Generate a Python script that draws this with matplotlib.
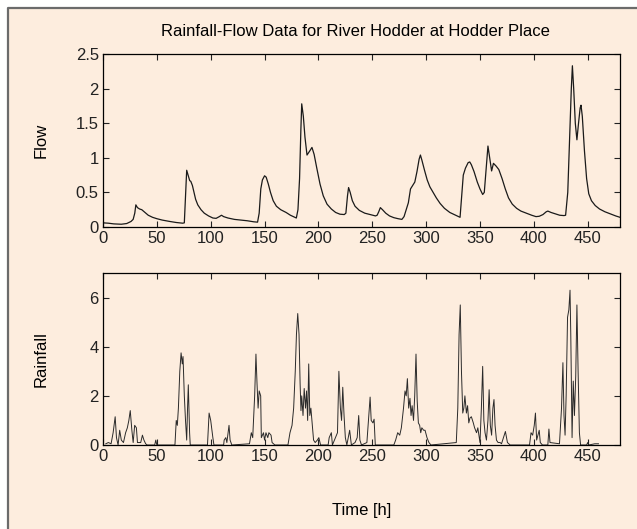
import numpy as np
import matplotlib
matplotlib.use('Agg')
from matplotlib import pyplot as plt
from matplotlib.patches import Rectangle
from matplotlib.lines import Line2D

# flow, hours and flow value
flow_t = [0, 5, 10, 17, 22, 26, 28, 29.5, 30.5, 32, 34, 36, 39, 42, 46, 50, 55, 62, 68, 74, 75.5,
          76.5, 77.7, 79, 80.5, 81.5, 83, 84.5, 86, 88, 91, 94, 98, 102, 105, 108, 110, 112, 116,
          122, 128, 134, 140, 143.5, 145, 146.5, 148, 150, 151.5, 153.5, 155.5, 158, 161, 165, 170,
          174, 178, 179.5, 181, 182.5, 183.7, 184.5, 186, 187.5, 189.4, 192, 194, 196, 198.5, 201.5,
          204.5, 208, 212, 216, 220, 224, 225.5, 227, 228, 229.5, 231.5, 234, 238, 243, 248, 253,
          254.5, 256, 257.5, 259.5, 262.5, 266, 270, 274, 277.5, 279.5, 281.5, 283.5, 285.5, 287.5,
          289.5, 291.5, 293.5, 294.7, 296, 298.5, 301, 303.5, 306.5, 309.5, 313, 317, 322, 326, 330,
          331.5, 333, 334.5, 336.5, 339, 340.5, 342, 344.5, 347.5, 350, 352.5, 354, 356, 357.4, 359,
          360.8, 362.5, 365, 367.5, 370.5, 373.5, 376.5, 380, 384, 388, 393, 398, 402, 405, 408.5,
          411.5, 413, 416, 420, 424, 428, 429.5, 431.5, 433, 434.8, 435.8, 437, 438.5, 440, 441.5,
          443, 443.8, 445, 447, 449, 451, 453.5, 457, 461, 466, 471, 476, 480]
flow_v = [0.06, 0.055, 0.045, 0.04, 0.05, 0.08, 0.11, 0.2, 0.32, 0.28, 0.26, 0.25, 0.21, 0.17, 0.14,
          0.12, 0.1, 0.08, 0.065, 0.055, 0.06, 0.4, 0.82, 0.75, 0.67, 0.66, 0.6, 0.5, 0.4, 0.32, 0.25,
          0.2, 0.16, 0.13, 0.125, 0.15, 0.17, 0.15, 0.13, 0.11, 0.1, 0.09, 0.075, 0.07, 0.2, 0.55,
          0.68, 0.74, 0.72, 0.62, 0.5, 0.38, 0.3, 0.25, 0.21, 0.17, 0.14, 0.13, 0.25, 0.7, 1.4, 1.78,
          1.6, 1.3, 1.04, 1.1, 1.15, 1.05, 0.85, 0.62, 0.45, 0.33, 0.26, 0.21, 0.185, 0.18, 0.2, 0.45,
          0.57, 0.5, 0.38, 0.3, 0.24, 0.2, 0.18, 0.16, 0.17, 0.22, 0.28, 0.25, 0.2, 0.16, 0.135, 0.12,
          0.11, 0.15, 0.25, 0.35, 0.55, 0.6, 0.65, 0.8, 0.98, 1.04, 0.97, 0.82, 0.68, 0.58, 0.5, 0.42,
          0.34, 0.27, 0.21, 0.18, 0.15, 0.14, 0.45, 0.75, 0.85, 0.93, 0.94, 0.9, 0.8, 0.65, 0.55,
          0.47, 0.5, 0.9, 1.17, 1.0, 0.81, 0.92, 0.88, 0.83, 0.7, 0.55, 0.42, 0.33, 0.27, 0.23, 0.2,
          0.17, 0.15, 0.155, 0.18, 0.22, 0.23, 0.21, 0.19, 0.17, 0.165, 0.17, 0.5, 1.2, 2.0, 2.33,
          2.0, 1.5, 1.26, 1.5, 1.72, 1.76, 1.6, 1.1, 0.7, 0.48, 0.38, 0.31, 0.26, 0.22, 0.19, 0.16,
          0.14]

# rainfall
rain_t = [2.6, 5, 7.5, 9.4, 11.3, 12.5, 14, 15.5, 17, 19, 21, 22.6, 24, 25.3, 26.8, 28, 29.4, 31,
          32, 35, 36.6, 38, 39.6, 41, 48, 49, 50, 66.8, 68, 69, 70, 71.3, 72.5, 73.6, 74.3, 75.5,
          76.6, 77.7, 78.5, 79.2, 80.4, 81, 97, 98.5, 100, 102, 103, 112, 112.5, 114, 115, 117, 118,
          119.6, 136, 137.7, 139, 140.8, 142, 143, 144, 145, 146.4, 147, 149, 150, 151.3, 153, 154,
          156, 157, 159.6, 171.7, 173.6, 175.5, 177, 178.5, 179.6, 180.8, 182, 183, 183.8, 184.5,
          185.7, 186.8, 188, 189, 190, 191, 192, 193, 194.3, 195.5, 197, 199, 200.4, 202, 209, 210,
          212, 213, 217.7, 219, 220.4, 221.5, 222.6, 223.8, 225, 226.4, 229, 230.6, 234, 236, 237.4,
          238.5, 240, 245, 246.8, 248, 249, 250.6, 251.7, 252.8, 270, 271.7, 273.6, 275.5, 277,
          279, 280.4, 281.5, 282.6, 283.8, 285, 286, 287, 288.3, 289.4, 290.6, 291.7, 292.8, 294,
          295, 296, 297.7, 299, 300.8, 302.6, 304.5, 328, 329.4, 330.6, 331.7, 332.8, 334, 335, 336,
          337.4, 338.5, 339.6, 340.7, 342, 343.8, 345, 346.8, 348, 350, 351.3, 352.5, 353.6, 354.7,
          356, 357.4, 358.5, 359.6, 360.8, 362, 363, 364, 365.3, 366.8, 368.7, 370, 373.6, 375.5,
          378, 396, 397.4, 398.9, 400.4, 401.5, 402.6, 405, 406, 408, 413, 414, 415, 423.8, 425.7,
          427, 428, 429, 430, 431.3, 432.5, 433.6, 434.3, 435.5, 436.6, 437.7, 438.9, 440, 441.1,
          442.3, 443.4, 449, 450, 451, 456.6, 460]
rain_v = [0.05, 0.1, 0.05, 0.5, 1.15, 0.3, 0, 0.6, 0.2, 0.1, 0.5, 0.7, 1.0, 1.4, 0.6, 0.1, 0.8, 0.7,
          0.1, 0.1, 0.4, 0.2, 0.05, 0, 0, 0.2, 0, 0, 1.0, 0.8, 1.5, 3.0, 3.75, 3.3, 3.6, 2.0, 1.0,
          0.2, 1.5, 2.45, 0.5, 0, 0, 1.3, 1.0, 0.3, 0, 0, 0.2, 0.3, 0.1, 0.8, 0.2, 0, 0.05, 0.5, 0.3,
          2.0, 3.7, 2.5, 1.5, 2.2, 2.0, 0.3, 0.5, 0.2, 0.5, 0.3, 0.5, 0.4, 0.1, 0, 0, 0.5, 0.8, 1.5,
          3.0, 4.5, 5.35, 4.5, 2.5, 1.4, 2.0, 1.2, 2.3, 1.5, 2.2, 1.0, 3.3, 1.2, 1.5, 0.8, 0.2, 0.1,
          0.2, 0.3, 0, 0, 0.3, 0.5, 0, 0.5, 3.0, 1.5, 1.0, 2.35, 1.2, 0.3, 0, 0.6, 0, 0.1, 0.3, 1.2,
          0.2, 0, 0.1, 1.2, 1.95, 1.0, 0.9, 1.05, 0, 0, 0.2, 0.5, 0.4, 0.7, 1.5, 2.2, 2.0, 2.7, 1.5,
          1.9, 1.2, 1.6, 1.0, 2.0, 3.7, 1.8, 0.9, 0.8, 0.5, 0.7, 0.6, 0.6, 0.3, 0.1, 0, 0.1, 1.5,
          4.5, 5.7, 3.0, 1.3, 1.5, 2.0, 1.3, 1.6, 0.9, 1.1, 1.15, 0.9, 0.7, 0.5, 0.7, 0.1, 1.5, 3.2,
          1.0, 0.5, 0.2, 1.0, 2.25, 0.8, 0.4, 1.5, 1.85, 0.8, 0.2, 0.1, 0.1, 0.05, 0.55, 0.1, 0, 0,
          0.5, 0.4, 0.8, 1.3, 0.2, 0.6, 0.1, 0, 0, 0.65, 0.1, 0.05, 1.5, 3.35, 1.2, 0.4, 2.0, 5.2,
          5.5, 6.3, 4.5, 0.3, 2.6, 1.2, 2.8, 5.7, 3.0, 0.5, 0, 0, 0.1, 0, 0.05, 0.05]

beige = '#fdedde'
frame = '#6b6b6b'
plt.rcParams['font.family'] = ['Liberation Sans', 'DejaVu Sans']

fig = plt.figure(figsize=(6.37, 5.29), dpi=100, facecolor=beige)
# white strips above and left of the grey frame
fx = 7.5 / 637
fy = 1 - 8 / 529
fig.patches.append(Rectangle((0, fy), 1, 1 - fy, transform=fig.transFigure,
                             facecolor='white', edgecolor='none', zorder=-2))
fig.patches.append(Rectangle((0, 0), fx, 1, transform=fig.transFigure,
                             facecolor='white', edgecolor='none', zorder=-2))
fig.lines.append(Line2D([fx, fx, 1], [0, fy, fy], transform=fig.transFigure,
                        color=frame, linewidth=1.6, zorder=-1))

ax1 = fig.add_axes([103 / 637, 1 - 227 / 529, 517 / 637, 173 / 529])
ax2 = fig.add_axes([103 / 637, 1 - 445 / 529, 517 / 637, 172 / 529])

ax1.plot(flow_t, flow_v, color='#1a1a1a', linewidth=0.9)
ax2.plot(rain_t, rain_v, color='#2a2a2a', linewidth=0.7)

for ax in (ax1, ax2):
    ax.set_facecolor(beige)
    ax.set_xlim(0, 480)
    ax.set_xticks(np.arange(0, 451, 50))
    ax.tick_params(direction='in', top=True, right=True, length=4, width=0.8,
                   labelsize=12, colors='#222222', pad=3)
    for s in ax.spines.values():
        s.set_linewidth(0.9)

ax1.set_ylim(0, 2.5)
ax1.set_yticks([0, 0.5, 1, 1.5, 2, 2.5])
ax1.set_yticklabels(['0', '0.5', '1', '1.5', '2', '2.5'])
ax2.set_ylim(0, 7)
ax2.set_yticks([0, 2, 4, 6])

ax1.set_ylabel('Flow', fontsize=12)
ax2.set_ylabel('Rainfall', fontsize=12)
ax1.yaxis.set_label_coords(-0.106, 0.5)
ax2.yaxis.set_label_coords(-0.106, 0.5)
ax2.set_xlabel('Time [h]', fontsize=12)
ax2.xaxis.set_label_coords(0.5, -0.34)
fig.text(355 / 637, 1 - 32 / 529, 'Rainfall-Flow Data for River Hodder at Hodder Place',
         ha='center', va='center', fontsize=12)

plt.savefig('out.png', dpi=100, facecolor=beige)
